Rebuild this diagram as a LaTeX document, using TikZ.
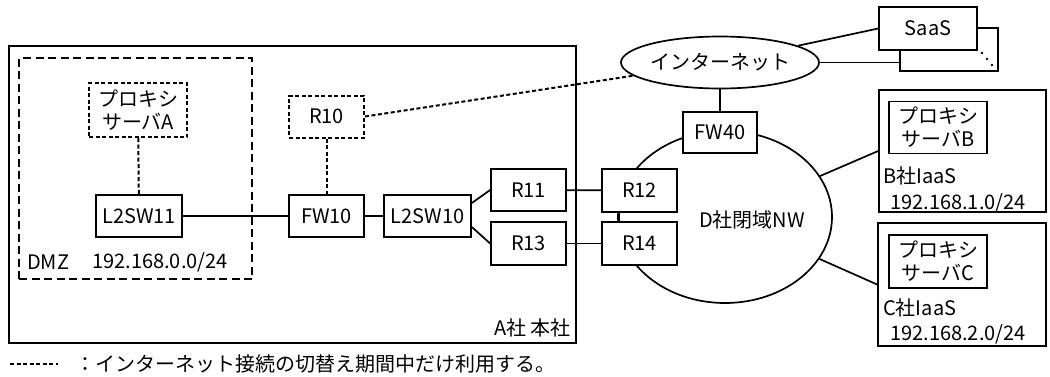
\documentclass[tikz,border=0pt]{standalone}
\usepackage{fontspec}
\setmainfont{Noto Sans CJK JP}
\usetikzlibrary{shapes.geometric}
\begin{document}
\begin{tikzpicture}[x=1pt,y=-1pt,
  every node/.style={font=\fontsize{20}{23}\selectfont},
  box/.style={draw,line width=1.7pt,fill=white,minimum width=75pt,minimum height=42pt,inner sep=0pt,align=center},
  container/.style={draw,line width=1.7pt,inner sep=0pt},
  dotline/.style={line width=2pt,dash pattern=on 4pt off 2.5pt},
  dmzline/.style={line width=2pt,dash pattern=on 8pt off 4.5pt},
  link/.style={line width=1.7pt},
  txt/.style={inner sep=0pt,anchor=west}]
\useasboundingbox (0,0) rectangle (1050,376);

% containers
\node[container,minimum width=567pt,minimum height=297pt] (A) at (292.5,194.5) {};
\node[container,dmzline,minimum width=233pt,minimum height=221pt] (dmz) at (135.5,168.5) {};
\node[txt,anchor=east] (Alab) at (571,328) {A社 本社};
\node[txt] (dmzlab) at (27,262) {DMZ};
\node[txt] (dmznet) at (92,262) {192.168.0.0/24};

% D ellipse
\node[draw,ellipse,line width=1.7pt,minimum width=214pt,minimum height=172pt,inner sep=0pt] (D) at (725,217) {};
\node[inner sep=0pt] (Dlab) at (752,220) {D社閉域NW};

% A-side nodes
\node[box,dotline,minimum width=98pt,minimum height=54pt] (pxA) at (138,110) {プロキシ\\サーバA};
\node[box,dotline] (R10) at (326.5,116.5) {R10};
\node[box,minimum width=86pt] (sw11) at (139,216) {L2SW11};
\node[box] (fw10) at (326.5,216) {FW10};
\node[box,minimum width=87pt] (sw10) at (427.5,216) {L2SW10};
\node[box] (r11) at (528.5,190) {R11};
\node[box,minimum height=43pt] (r13) at (528.5,243.5) {R13};
\node[box,minimum height=43pt] (r12) at (639.5,190.5) {R12};
\node[box,minimum height=43pt] (r14) at (639.5,243.5) {R14};
\node[box,minimum width=74pt,minimum height=41pt] (fw40) at (720,132.5) {FW40};

% internet + SaaS
\node[draw,ellipse,line width=1.7pt,fill=white,minimum width=194pt,minimum height=52pt,inner sep=0pt] (inet) at (720,62.5) {インターネット};
\node[box,minimum width=98pt,minimum height=43pt] (back) at (949,49.5) {};
\node[box,minimum width=98pt,minimum height=43pt] (saas) at (928,28.5) {SaaS};
\fill (982,53) circle (1.3pt) (987,59) circle (1.3pt) (992,65) circle (1.3pt);

% B IaaS
\node[container,minimum width=167pt,minimum height=122pt] (B) at (962.5,151) {};
\node[box,minimum width=98pt,minimum height=52pt] (pxB) at (938,127.5) {プロキシ\\サーバB};
\node[txt] (Blab) at (883,176) {B社IaaS};
\node[txt] (Bnet) at (890,203) {192.168.1.0/24};

% C IaaS
\node[container,minimum width=168pt,minimum height=123pt] (C) at (962,284.5) {};
\node[box,minimum width=98pt,minimum height=53pt] (pxC) at (938,261.5) {プロキシ\\サーバC};
\node[txt] (Clab) at (883,308) {C社IaaS};
\node[txt] (Cnet) at (890,334) {192.168.2.0/24};

% connectors
\draw[dotline] (pxA) -- (sw11);
\draw[dotline] (R10) -- (fw10);
\draw[dotline] (R10.east) -- (inet);
\draw[link] (sw11) -- (fw10);
\draw[link] (fw10) -- (sw10);
\draw[link] ([yshift=13pt]sw10.east) -- (r11.west);
\draw[link] ([yshift=-11pt]sw10.east) -- (r13.west);
\draw[link] (r11) -- (r12);
\draw[link] (r13) -- (r14);
\draw[link] ([xshift=-20.5pt]r12.south) -- ([xshift=-20.5pt]r14.north);
\draw[link] (inet) -- (fw40);
\draw[link] (inet) -- (saas.west);
\draw[link] (inet.east) -- (inet.east -| back.west);
\draw[link] (D) -- (B.west);
\draw[link] (D) -- (C.west);

% legend
\coordinate (lg1) at (10,364);
\coordinate (lg2) at (58,364);
\draw[dotline] (lg1) -- (lg2);
\node[txt] (legend) at (75,364) {：インターネット接続の切替え期間中だけ利用する。};
\end{tikzpicture}
\end{document}
